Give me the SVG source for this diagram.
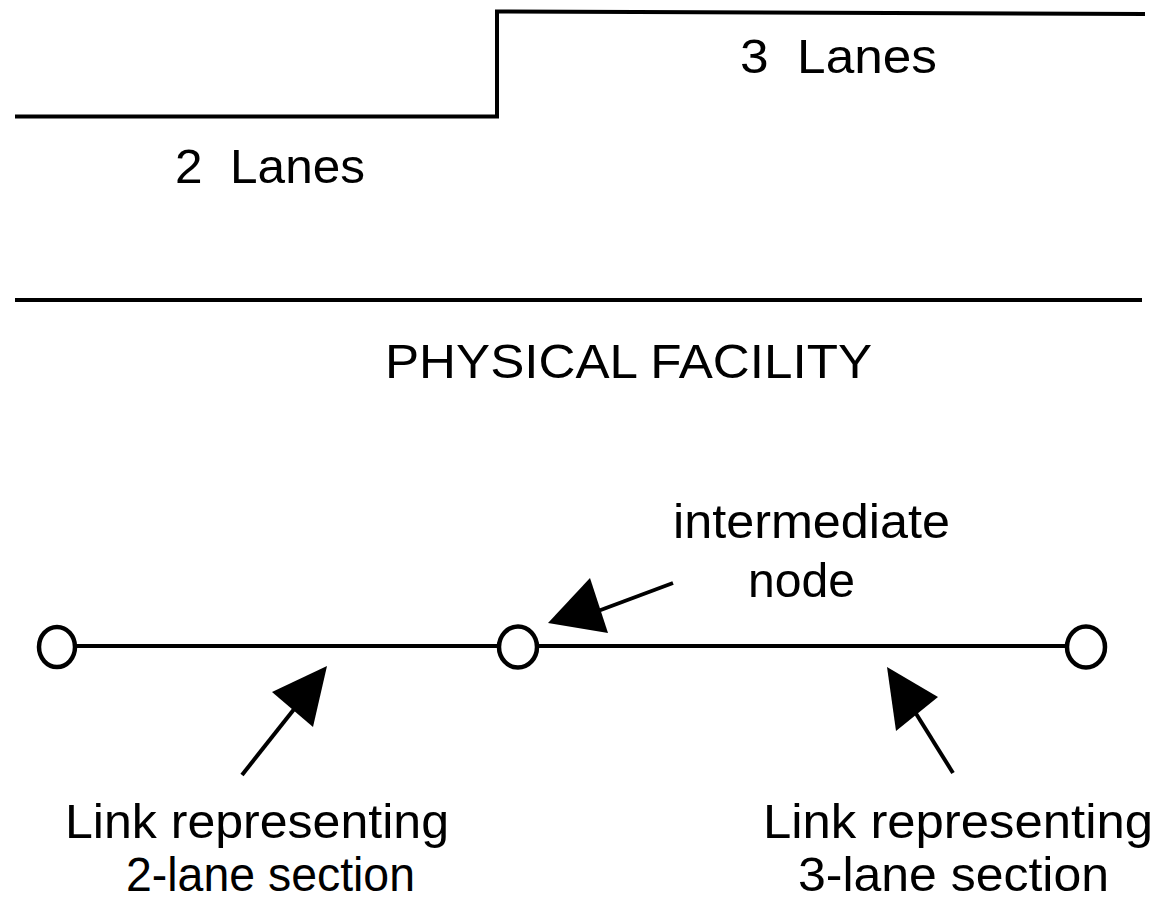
<svg xmlns="http://www.w3.org/2000/svg" width="1165" height="900" viewBox="0 0 1165 900">
<style>
.ln{stroke:#000;stroke-width:4;fill:none}
.nd{stroke:#000;stroke-width:4.5;fill:#fff}
.ah{fill:#000;stroke:none}
text{font-family:"Liberation Sans",Arial,sans-serif;font-size:48px;fill:#000}
</style>
<rect width="1165" height="900" fill="#fff"/>
<g id="facility">
<polyline class="ln" points="15,116.5 497,116.5 497,11.5 1145,14"/>
<line class="ln" x1="15" y1="300" x2="1142" y2="300"/>
<text x="740" y="73" textLength="197" lengthAdjust="spacingAndGlyphs" xml:space="preserve">3  Lanes</text>
<text x="175" y="183" textLength="190" lengthAdjust="spacingAndGlyphs" xml:space="preserve">2  Lanes</text>
<text x="385" y="378" textLength="487" lengthAdjust="spacingAndGlyphs">PHYSICAL FACILITY</text>
</g>
<g id="connectors">
<line class="ln" x1="75" y1="646" x2="500" y2="646"/>
<line class="ln" x1="536" y1="646" x2="1068" y2="646"/>
<line class="ln" x1="673" y1="583" x2="590" y2="614"/>
<polygon class="ah" points="548,623 590,578 608,633"/>
<line class="ln" x1="242" y1="775" x2="295" y2="708"/>
<polygon class="ah" points="327,666 272,692 313,727"/>
<line class="ln" x1="953" y1="773" x2="915" y2="712"/>
<polygon class="ah" points="887,667 938,697 896,731"/>
</g>
<g id="node-left"><ellipse class="nd" cx="57" cy="647" rx="18" ry="20"/></g>
<g id="node-mid"><ellipse class="nd" cx="518" cy="647" rx="19" ry="20.5"/></g>
<g id="node-right"><ellipse class="nd" cx="1086" cy="647" rx="19" ry="20.5"/></g>
<g id="labels">
<text x="673" y="538" textLength="277" lengthAdjust="spacingAndGlyphs">intermediate</text>
<text x="748" y="597" textLength="107" lengthAdjust="spacingAndGlyphs">node</text>
<text x="65" y="838" textLength="384" lengthAdjust="spacingAndGlyphs">Link representing</text>
<text x="126" y="891" textLength="289" lengthAdjust="spacingAndGlyphs">2-lane section</text>
<text x="763" y="838" textLength="390" lengthAdjust="spacingAndGlyphs">Link representing</text>
<text x="798" y="891" textLength="311" lengthAdjust="spacingAndGlyphs">3-lane section</text>
</g>
</svg>
